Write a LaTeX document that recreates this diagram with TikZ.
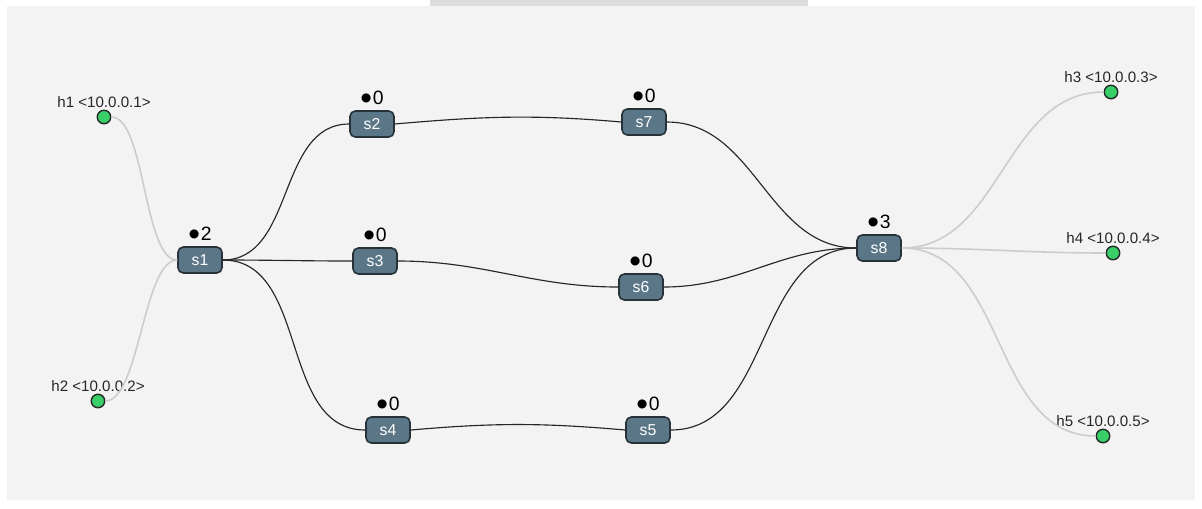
\documentclass[tikz,border=0pt]{standalone}
\usepackage{fontspec}
\setmainfont{Liberation Sans}
\usetikzlibrary{positioning, arrows.meta}

\definecolor{paper}{HTML}{F3F3F3}
\definecolor{tabgray}{HTML}{DDDDDD}
\definecolor{switchfill}{HTML}{5B7787}
\definecolor{switchline}{HTML}{263238}
\definecolor{hostfill}{HTML}{38CE68}
\definecolor{hostlink}{HTML}{CCCCCC}

% flow counter shown above a switch
\newcommand{\flows}[1]{{\fontsize{19}{19}\selectfont\raisebox{-3.2pt}{\textbullet}}\kern0.4pt#1}

\begin{document}
\begin{tikzpicture}[
    x=0.02cm, y=-0.02cm,
    switch/.style={draw=switchline, fill=switchfill, line width=0.9pt, rounded corners=3pt,
                   minimum width=0.88cm, minimum height=0.52cm, inner sep=0pt,
                   text=white, font=\fontsize{9}{10}\selectfont},
    host/.style={circle, draw=black!85, fill=hostfill, line width=0.8pt,
                 minimum size=0.27cm, inner sep=0pt},
    counter/.style={font=\fontsize{11}{12}\selectfont, inner sep=1.5pt, label distance=-1.5pt},
    addr/.style={font=\fontsize{8.6}{9}\selectfont, text=black!85, inner sep=1pt, label distance=0pt},
    trunk/.style={draw=black!85, line width=0.65pt},
    access/.style={draw=hostlink, line width=0.9pt},
]
  \useasboundingbox (0,0) rectangle (1202,508);
  \fill[paper] (7,6) rectangle (1195,500);
  \fill[tabgray] (430,0) rectangle (808,6);

  % switches
  \node[switch, label={[counter]above:\flows{2}}] (s1) at (200,260) {s1};
  \node[switch, label={[counter]above:\flows{0}}] (s2) at (372,124) {s2};
  \node[switch, label={[counter]above:\flows{0}}] (s3) at (375,261) {s3};
  \node[switch, label={[counter]above:\flows{0}}] (s4) at (388,430) {s4};
  \node[switch, label={[counter]above:\flows{0}}] (s5) at (648,430) {s5};
  \node[switch, label={[counter]above:\flows{0}}] (s6) at (641,287) {s6};
  \node[switch, label={[counter]above:\flows{0}}] (s7) at (644,122) {s7};
  \node[switch, label={[counter]above:\flows{3}}] (s8) at (879,248) {s8};

  % hosts
  \node[host, label={[addr]above:h1 <10.0.0.1>}] (h1) at (104,117) {};
  \node[host, label={[addr]above:h2 <10.0.0.2>}] (h2) at (98,401) {};
  \node[host, label={[addr]above:h3 <10.0.0.3>}] (h3) at (1111,92) {};
  \node[host, label={[addr]above:h4 <10.0.0.4>}] (h4) at (1113,253) {};
  \node[host, label={[addr]above:h5 <10.0.0.5>}] (h5) at (1103,436) {};

  % host links
  \draw[access] (h1.east) to[out=0, in=180, looseness=0.55] (s1.west);
  \draw[access] (h2.east) to[out=0, in=180, looseness=0.55] (s1.west);
  \draw[access] (s8.east) to[out=0, in=180] (h3.west);
  \draw[access] (s8.east) to[out=0, in=180] (h4.west);
  \draw[access] (s8.east) to[out=0, in=180] (h5.west);

  % switch links
  \draw[trunk] (s1.east) to[out=0, in=180] (s2.west);
  \draw[trunk] (s1.east) to[out=0, in=180] (s3.west);
  \draw[trunk] (s1.east) to[out=0, in=180] (s4.west);
  \draw[trunk] (s2.east) to[out=5, in=175] (s7.west);
  \draw[trunk] (s3.east) to[out=0, in=180] (s6.west);
  \draw[trunk] (s4.east) to[out=5, in=175] (s5.west);
  \draw[trunk] (s7.east) to[out=0, in=180] (s8.west);
  \draw[trunk] (s6.east) to[out=0, in=180] (s8.west);
  \draw[trunk] (s5.east) to[out=0, in=180] (s8.west);
\end{tikzpicture}
\end{document}
